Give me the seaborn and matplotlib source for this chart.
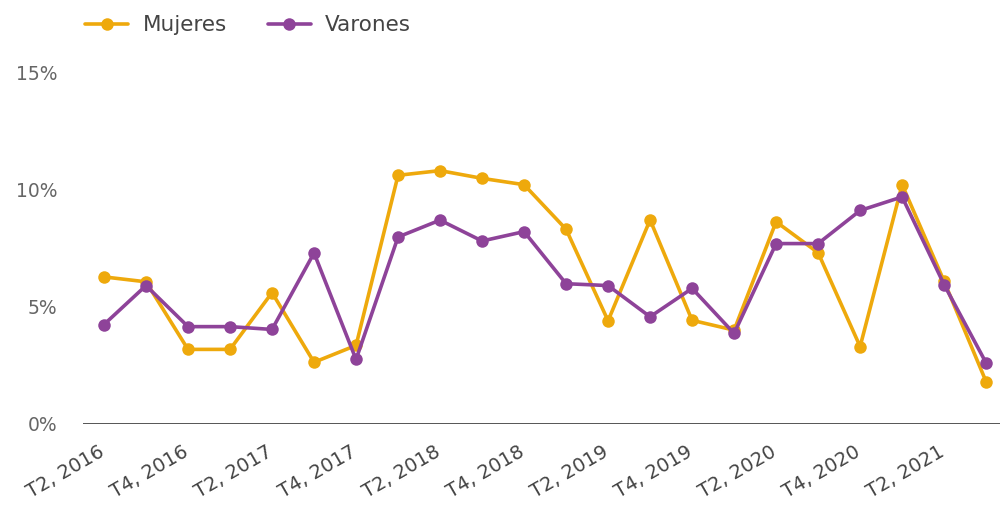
import matplotlib
matplotlib.use("Agg")
import matplotlib.pyplot as plt
import matplotlib.transforms as mtransforms
import seaborn as sns
import pandas as pd
import numpy as np

periods = ["T2, 2016", "T3, 2016", "T4, 2016", "T1, 2017", "T2, 2017", "T3, 2017",
           "T4, 2017", "T1, 2018", "T2, 2018", "T3, 2018", "T4, 2018", "T1, 2019",
           "T2, 2019", "T3, 2019", "T4, 2019", "T1, 2020", "T2, 2020", "T3, 2020",
           "T4, 2020", "T1, 2021", "T2, 2021", "T3, 2021"]
mujeres = [6.27, 6.06, 3.18, 3.18, 5.6, 2.63, 3.35, 10.6, 10.8, 10.47, 10.2, 8.3,
           4.4, 8.7, 4.42, 4.0, 8.62, 7.3, 3.3, 10.2, 6.08, 1.8]
varones = [4.24, 5.9, 4.15, 4.15, 4.03, 7.29, 2.75, 7.97, 8.69, 7.8, 8.2, 5.98,
           5.9, 4.57, 5.78, 3.86, 7.69, 7.69, 9.1, 9.68, 5.94, 2.6]
series_names = ["Mujeres", "Varones"]
colors = ["#EEA90C", "#8E4399"]

df = pd.DataFrame({
    "idx": list(range(len(periods))) * 2,
    "valor": mujeres + varones,
    "serie": [series_names[0]] * len(periods) + [series_names[1]] * len(periods),
})

sns.set_theme(style="white")
plt.rcParams["font.family"] = ["DejaVu Sans"]

fig = plt.figure(figsize=(10, 5.13), dpi=100)
ax = fig.add_axes([0.083, 0.1735, 0.917, 0.686])

sns.lineplot(data=df, x="idx", y="valor", hue="serie", palette=colors,
             marker="o", markersize=9, markeredgewidth=0, linewidth=2.6,
             ax=ax, legend=True)

ax.set_xlim(-0.5, 21.33)
ax.set_ylim(0, 15)
ax.set_yticks([0, 5, 10, 15])
ax.set_yticklabels(["0%", "5%", "10%", "15%"], color="#666666", fontsize=13.5)
ax.tick_params(axis="y", length=0, pad=18.5)

tick_pos = list(range(0, len(periods), 2))
ax.set_xticks(tick_pos)
ax.set_xticklabels([periods[i] for i in tick_pos], rotation=30, ha="right",
                   rotation_mode="anchor", color="#444444", fontsize=14)
ax.tick_params(axis="x", length=0, pad=13)
offset = mtransforms.ScaledTranslation(-6 / 100, 0, fig.dpi_scale_trans)
for lbl in ax.get_xticklabels():
    lbl.set_transform(lbl.get_transform() + offset)
ax.set_xlabel("")
ax.set_ylabel("")
for s in ax.spines.values():
    s.set_visible(False)
ax.axhline(0, color="#555555", linewidth=1.4, zorder=1)

handles, labels = ax.get_legend_handles_labels()
ax.legend_.remove()
fig.legend(handles, labels, loc="upper left", bbox_to_anchor=(0.066, 1.008),
           ncol=2, frameon=False, fontsize=15.5, handlelength=2.0,
           handletextpad=0.65, columnspacing=1.9, labelcolor="#444444")

fig.savefig("out.png", dpi=100)
